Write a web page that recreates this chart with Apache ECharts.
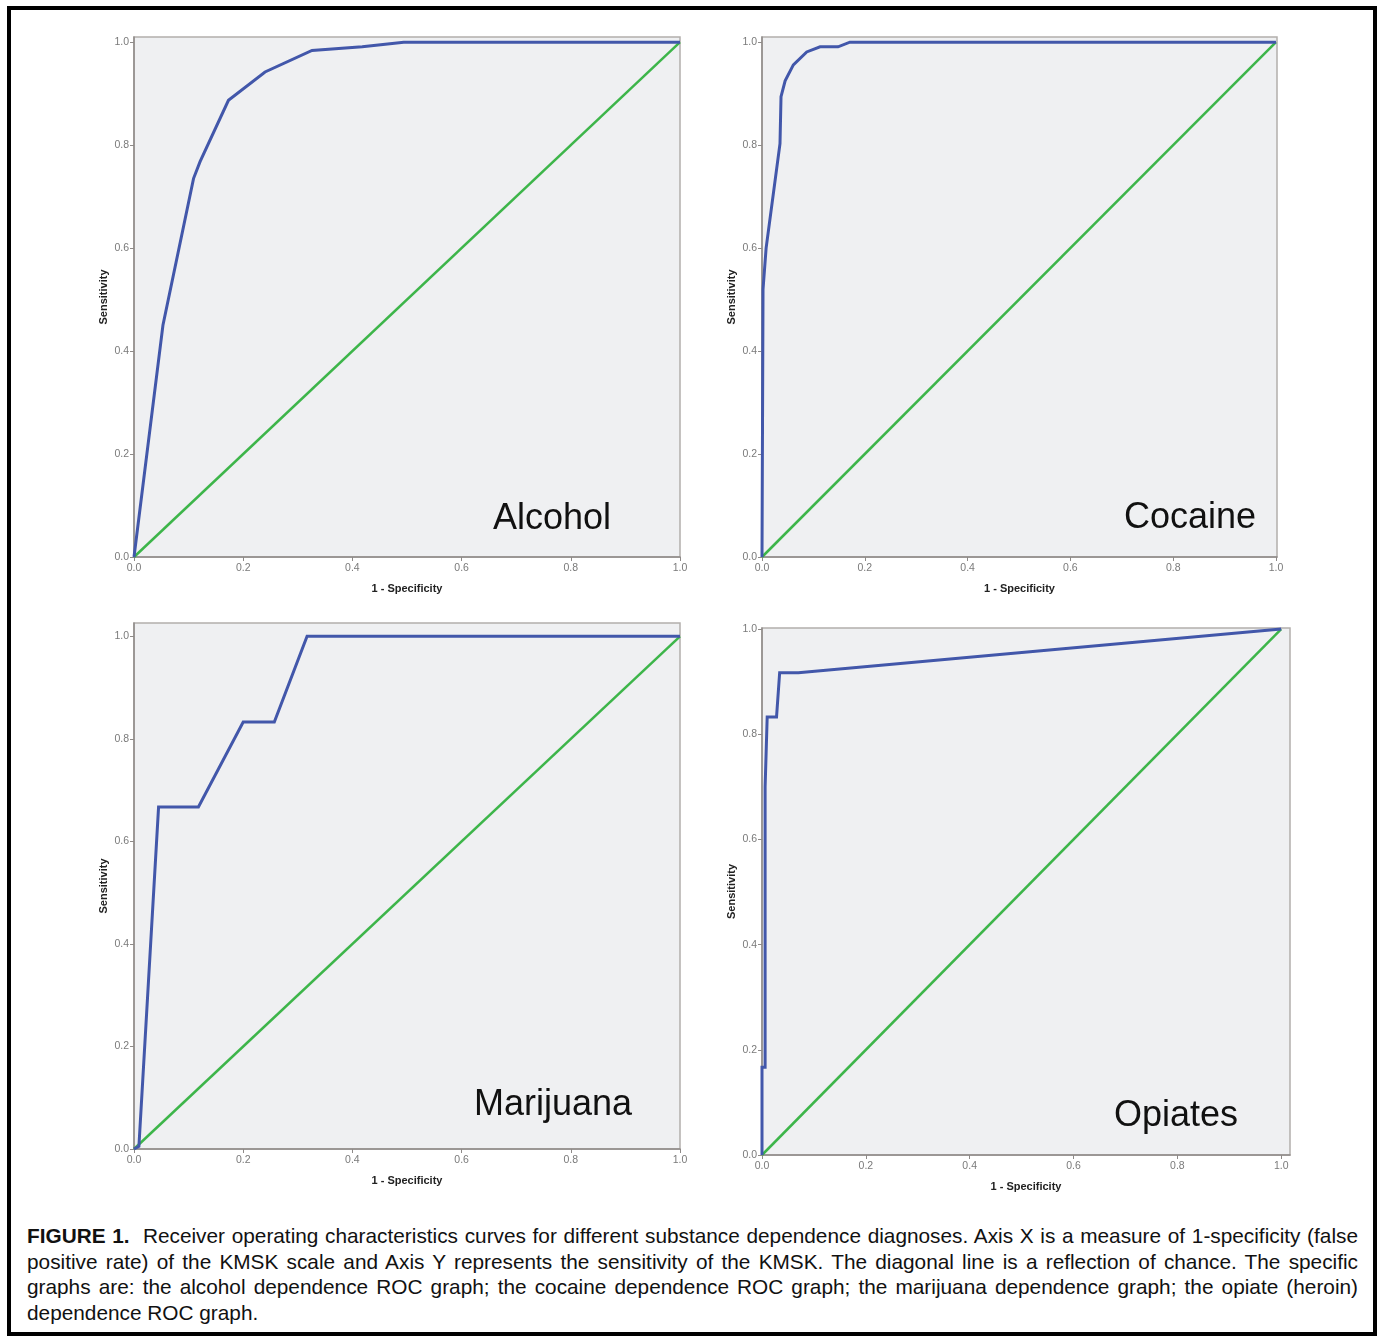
<!DOCTYPE html>
<html>
<head>
<meta charset="utf-8">
<script src="https://cdn.jsdelivr.net/npm/echarts@6/dist/echarts.min.js"></script>
<style>
  html, body { margin: 0; padding: 0; background: #fff; }
  #frame { position: absolute; left: 7px; top: 6px; width: 1362px; height: 1322px; border: 4px solid #000; z-index: 5; pointer-events: none; }
  #chart { position: absolute; left: 0; top: 0; width: 1380px; height: 1205px; }
  #caption { position: absolute; left: 27px; top: 1223px; width: 1331px; font-family: "Liberation Sans", Arial, sans-serif; font-size: 20.8px; line-height: 25.7px; color: #111; }
  #caption .j { text-align: justify; text-align-last: justify; white-space: nowrap; }
  #caption .l { text-align: left; white-space: nowrap; }
</style>
</head>
<body>
<div id="chart"></div>
<div id="caption">
  <div class="j"><b>FIGURE 1.</b>&nbsp; Receiver operating characteristics curves for different substance dependence diagnoses. Axis X is a measure of 1-specificity (false</div>
  <div class="j">positive rate) of the KMSK scale and Axis Y represents the sensitivity of the KMSK. The diagonal line is a reflection of chance. The specific</div>
  <div class="j">graphs are: the alcohol dependence ROC graph; the cocaine dependence ROC graph; the marijuana dependence graph; the opiate (heroin)</div>
  <div class="l">dependence ROC graph.</div>
</div>
<div id="frame"></div>
<script>
// ---- Data ----
const panelNames = ['Alcohol', 'Cocaine', 'Marijuana', 'Opiates'];
const tickValues = [0, 0.2, 0.4, 0.6, 0.8, 1.0];
const xAxisTitle = '1 - Specificity';
const yAxisTitle = 'Sensitivity';

const alcoholFpr = [0, 0.053, 0.109, 0.121, 0.173, 0.240, 0.326, 0.418, 0.494, 1.0];
const alcoholTpr = [0, 0.45, 0.735, 0.768, 0.887, 0.942, 0.984, 0.991, 1.0, 1.0];

const cocaineFpr = [0, 0.002, 0.008, 0.035, 0.037, 0.045, 0.061, 0.087, 0.113, 0.148, 0.171, 1.0];
const cocaineTpr = [0, 0.52, 0.60, 0.803, 0.894, 0.925, 0.956, 0.981, 0.991, 0.991, 1.0, 1.0];

const marijuanaFpr = [0, 0.009, 0.045, 0.118, 0.200, 0.257, 0.317, 1.0];
const marijuanaTpr = [0, 0.005, 0.667, 0.667, 0.833, 0.833, 1.0, 1.0];

const opiatesFpr = [0, 0, 0.006, 0.006, 0.010, 0.028, 0.034, 0.070, 1.0];
const opiatesTpr = [0, 0.167, 0.167, 0.70, 0.833, 0.833, 0.917, 0.917, 1.0];

const chanceFpr = [0, 1];
const chanceTpr = [0, 1];

// ---- Build ----
const curves = [
  [alcoholFpr, alcoholTpr],
  [cocaineFpr, cocaineTpr],
  [marijuanaFpr, marijuanaTpr],
  [opiatesFpr, opiatesTpr]
];
const pairs = (xs, ys) => xs.map((x, i) => [x, ys[i]]);

const grids = [
  { left: 134, top: 37, width: 546, height: 520 },
  { left: 762, top: 37, width: 515, height: 520 },
  { left: 134, top: 623, width: 546, height: 526 },
  { left: 762, top: 628, width: 528, height: 527 }
];
const xMax = [1.0, 1.002, 1.0, 1.017];
const yMax = [1.01, 1.01, 1.026, 1.002];
const labelPos = [
  { x: 611, y: 519 },
  { x: 1256, y: 518 },
  { x: 632, y: 1105 },
  { x: 1238, y: 1116 }
];

const axisLineColor = '#8e8a88';
const labelStyle = { color: '#7a7a7a', fontSize: 10.5, fontFamily: 'Liberation Sans' };
const nameStyle = { color: '#222', fontSize: 11, fontWeight: 'bold', fontFamily: 'Liberation Sans' };

const option = {
  animation: false,
  backgroundColor: 'transparent',
  grid: grids.map(g => Object.assign({
    show: true, backgroundColor: '#eff0f2', borderColor: '#b3afac', borderWidth: 1.5, containLabel: false
  }, g)),
  xAxis: grids.map((g, i) => ({
    type: 'value', gridIndex: i, min: 0, max: xMax[i],
    name: xAxisTitle, nameLocation: 'middle', nameGap: 26, nameTextStyle: nameStyle,
    axisLine: { show: true, onZero: false, lineStyle: { color: axisLineColor, width: 1.5 } },
    axisTick: { show: true, length: 4, customValues: tickValues, lineStyle: { color: axisLineColor } },
    axisLabel: Object.assign({ margin: 6, customValues: tickValues, formatter: v => v.toFixed(1) }, labelStyle),
    splitLine: { show: false }
  })),
  yAxis: grids.map((g, i) => ({
    type: 'value', gridIndex: i, min: 0, max: yMax[i],
    name: yAxisTitle, nameLocation: 'middle', nameGap: 25, nameTextStyle: nameStyle,
    axisLine: { show: true, onZero: false, lineStyle: { color: axisLineColor, width: 1.5 } },
    axisTick: { show: true, length: 4, customValues: tickValues, lineStyle: { color: axisLineColor } },
    axisLabel: Object.assign({ margin: 5, customValues: tickValues, formatter: v => v.toFixed(1) }, labelStyle),
    splitLine: { show: false }
  })),
  series: [].concat(
    curves.map((c, i) => ({
      type: 'line', name: panelNames[i] + ' chance', xAxisIndex: i, yAxisIndex: i,
      data: pairs(chanceFpr, chanceTpr), showSymbol: false, clip: false, z: 2,
      lineStyle: { color: '#3db54a', width: 2.5 }
    })),
    curves.map((c, i) => ({
      type: 'line', name: panelNames[i], xAxisIndex: i, yAxisIndex: i,
      data: pairs(c[0], c[1]), showSymbol: false, clip: false, z: 3,
      lineStyle: { color: '#4257aa', width: 3, join: 'miter' }
    }))
  ),
  graphic: panelNames.map((n, i) => ({
    type: 'text', z: 10,
    style: {
      text: n, x: labelPos[i].x, y: labelPos[i].y,
      textAlign: 'right', align: 'right', textVerticalAlign: 'middle', verticalAlign: 'middle',
      fill: '#111', font: '36px "Liberation Sans", Arial, sans-serif'
    }
  }))
};

const chart = echarts.init(document.getElementById('chart'), null, { renderer: 'canvas' });
chart.setOption(option);
</script>
</body>
</html>
